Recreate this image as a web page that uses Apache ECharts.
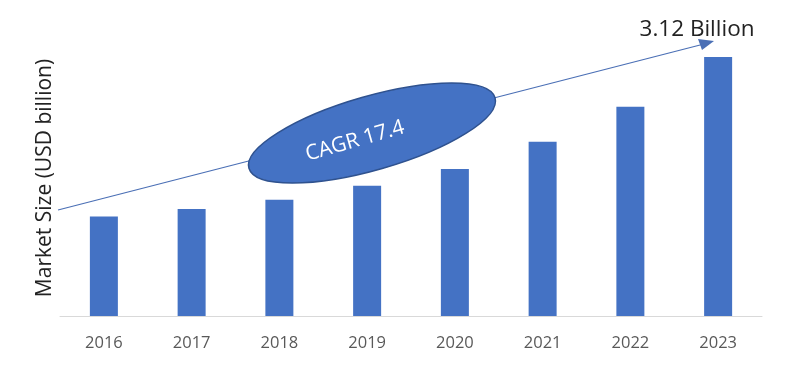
<!DOCTYPE html>
<html><head><meta charset="utf-8">
<script src="https://cdn.jsdelivr.net/npm/echarts@6/dist/echarts.min.js"></script>
<style>html,body{margin:0;padding:0;background:#fff}#c{width:800px;height:386px}</style>
</head><body><div id="c"></div>
<script>
const categories = ['2016','2017','2018','2019','2020','2021','2022','2023'];
const marketSize = [1.20, 1.29, 1.40, 1.57, 1.77, 2.10, 2.52, 3.12];
const yTitle = 'Market Size (USD billion)';
const endLabel = '3.12 Billion';
const cagrLabel = 'CAGR 17.4';

const chart = echarts.init(document.getElementById('c'));
const deg = Math.PI / 180;
chart.setOption({
  animation: false,
  grid: {left: 60, right: 38, top: 25.5, bottom: 70},
  xAxis: {
    type: 'category', data: categories,
    axisLine: {lineStyle: {color: '#D9D9D9', width: 1}},
    axisTick: {show: false},
    axisLabel: {color: '#595959', fontSize: 16.5, margin: 19, fontFamily: 'Open Sans'}
  },
  yAxis: {
    type: 'value', min: 0, max: 3.5,
    axisLine: {show: false}, axisTick: {show: false},
    axisLabel: {show: false}, splitLine: {show: false}
  },
  series: [{
    type: 'bar', data: marketSize, barWidth: 28,
    itemStyle: {color: '#4472C4'}
  }],
  graphic: [
    {type: 'text', x: 45, y: 178, rotation: 90 * deg,
     style: {text: yTitle, fill: '#222', fontSize: 21, fontFamily: 'Open Sans', align: 'center', verticalAlign: 'middle'}},
    {type: 'line', shape: {x1: 58, y1: 210, x2: 704, y2: 44},
     style: {stroke: '#4A6FB5', lineWidth: 1.2}},
    {type: 'polygon', shape: {points: [[714, 41], [698, 39], [702, 50]]},
     style: {fill: '#4A6FB5'}},
    {type: 'ellipse', x: 372, y: 133, rotation: 16 * deg,
     shape: {cx: 0, cy: 0, rx: 128, ry: 37},
     style: {fill: '#4472C4', stroke: '#2F528F', lineWidth: 1.5}},
    {type: 'text', x: 355, y: 141, rotation: 16 * deg,
     style: {text: cagrLabel, fill: '#fff', fontSize: 21, fontFamily: 'Open Sans', align: 'center', verticalAlign: 'middle'}},
    {type: 'text', x: 697, y: 30,
     style: {text: endLabel, fill: '#222', fontSize: 22.5, fontFamily: 'Open Sans', align: 'center', verticalAlign: 'middle'}}
  ]
});
</script></body></html>
